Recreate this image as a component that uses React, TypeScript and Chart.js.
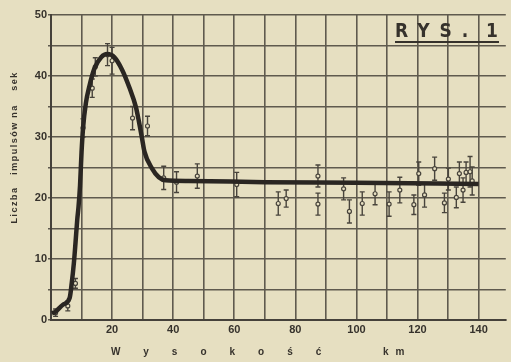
import React, { useEffect, useRef } from "react";
import { Chart, registerables } from "chart.js";

Chart.register(...registerables);

// Smooth fitted curve (altitude km, counts per second)
const curveKm = [0.3, 1.3, 3.9, 6.1, 6.8, 7.5, 8.0, 8.6, 9.0, 9.5, 10.0, 10.5, 11.4, 12.6, 14.2, 16.5, 18.4, 20.7, 23.3, 25.6, 27.8, 28.8, 29.8, 30.6, 33, 35.3, 37.5, 45, 70, 100, 140];
const curveVal = [1.1, 1.3, 2.5, 3.6, 6.1, 9.4, 12.5, 16.5, 18.5, 22, 27.5, 31.5, 35.5, 38.4, 41.2, 43.1, 43.6, 43.1, 41, 38.2, 34.9, 32.5, 29.8, 27.6, 24.9, 23.4, 22.9, 22.8, 22.6, 22.5, 22.3];

// Measured points with error bars
const obsKm = [1.5, 5.5, 8.0, 10.5, 13.5, 14.5, 18.5, 20.0, 26.7, 31.6, 36.9, 41.1, 47.9, 60.8, 74.4, 77.0, 87.4, 87.4, 95.8, 97.7, 101.9, 106.1, 110.7, 114.2, 118.8, 120.4, 122.3, 125.6, 128.8, 130.1, 132.7, 133.7, 134.9, 135.9, 137.2, 137.9];
const obsVal = [1.2, 2.3, 6.0, 31.5, 38.0, 41.5, 43.5, 42.5, 33.1, 31.8, 23.3, 22.6, 23.6, 22.2, 19.1, 19.9, 23.6, 19.0, 21.5, 17.8, 19.1, 20.7, 19.0, 21.3, 18.9, 24.0, 20.5, 24.8, 19.2, 23.1, 20.1, 24.0, 21.3, 24.2, 24.3, 22.8];
const obsErr = [0.6, 0.8, 0.8, 1.5, 1.5, 1.5, 1.8, 2.2, 1.9, 1.6, 1.9, 1.7, 2.0, 2.0, 1.9, 1.4, 1.8, 1.8, 1.8, 1.9, 1.9, 1.8, 2.0, 2.1, 1.6, 1.9, 2.0, 1.9, 1.6, 1.8, 1.7, 1.9, 2.0, 1.7, 2.5, 2.3];

const yTitleWords = ["Liczba", "impulsów", "na", "sek"];
const yTitleCenters = [205, 148, 111, 81];
const xTitleMain = "Wysokość";
const xTitleUnit = "km";
const figLabelMain = "RYS.";
const figLabelNum = "1";

const BG = "#e6dfc1";
const INK = "#36322c";
const GRID = "#5f5a4e";

const bgPlugin = {
  id: "bgPlugin",
  beforeDraw(chart: any) {
    const { ctx, width, height } = chart;
    ctx.save();
    ctx.fillStyle = BG;
    ctx.fillRect(0, 0, width, height);
    ctx.restore();
  },
};

const errorBars = {
  id: "errorBars",
  beforeDatasetsDraw(chart: any) {
    const { ctx } = chart;
    const x = chart.scales.x;
    const y = chart.scales.y;
    ctx.save();
    ctx.strokeStyle = "#48443c";
    ctx.lineWidth = 1.4;
    obsKm.forEach((k, i) => {
      const px = x.getPixelForValue(k);
      const top = y.getPixelForValue(obsVal[i] + obsErr[i]);
      const bot = y.getPixelForValue(obsVal[i] - obsErr[i]);
      ctx.beginPath();
      ctx.moveTo(px, top);
      ctx.lineTo(px, bot);
      ctx.moveTo(px - 2.5, top);
      ctx.lineTo(px + 2.5, top);
      ctx.moveTo(px - 2.5, bot);
      ctx.lineTo(px + 2.5, bot);
      ctx.stroke();
    });
    ctx.restore();
  },
};

function setSpacing(ctx: any, v: string) {
  if ("letterSpacing" in ctx) ctx.letterSpacing = v;
}

const textPlugin = {
  id: "textPlugin",
  afterDraw(chart: any) {
    const { ctx } = chart;
    ctx.save();
    ctx.fillStyle = INK;
    // y-axis title, rotated
    ctx.font = "bold 9px 'Liberation Sans', Arial, sans-serif";
    ctx.textAlign = "center";
    ctx.textBaseline = "middle";
    yTitleWords.forEach((w, i) => {
      ctx.save();
      ctx.translate(15, yTitleCenters[i]);
      ctx.rotate(-Math.PI / 2);
      setSpacing(ctx, "1.5px");
      ctx.fillText(w, 0, 0);
      ctx.restore();
    });
    // x-axis title, widely spaced
    ctx.font = "bold 10px 'Liberation Sans', Arial, sans-serif";
    ctx.textAlign = "left";
    ctx.textBaseline = "middle";
    setSpacing(ctx, "23px");
    ctx.fillText(xTitleMain, 111, 352);
    setSpacing(ctx, "7px");
    ctx.fillText(xTitleUnit, 383, 352);
    // figure label
    ctx.font = "bold 19px 'DejaVu Sans Condensed', 'Liberation Sans', Arial, sans-serif";
    ctx.textBaseline = "alphabetic";
    setSpacing(ctx, "10px");
    ctx.fillText(figLabelMain, 395, 37);
    setSpacing(ctx, "0px");
    ctx.fillText(figLabelNum, 486, 37);
    ctx.fillRect(395, 41, 104, 2);
    ctx.restore();
  },
};

export default function App() {
  const ref = useRef<HTMLCanvasElement>(null);
  useEffect(() => {
    if (!ref.current) return;
    const chart = new Chart(ref.current, {
      type: "scatter",
      data: {
        datasets: [
          {
            data: curveKm.map((k, i) => ({ x: k, y: curveVal[i] })),
            showLine: true,
            borderColor: "#2a2622",
            borderWidth: 4.5,
            pointRadius: 0,
            cubicInterpolationMode: "monotone",
            order: 0,
          } as any,
          {
            data: obsKm.map((k, i) => ({ x: k, y: obsVal[i] })),
            showLine: false,
            pointRadius: 2,
            pointBackgroundColor: BG,
            pointBorderColor: "#48443c",
            pointBorderWidth: 1.2,
            order: 1,
          } as any,
        ],
      },
      options: {
        responsive: false,
        animation: false,
        layout: { padding: { left: 0, top: 15, right: 0, bottom: 0 } },
        plugins: { legend: { display: false }, tooltip: { enabled: false } },
        scales: {
          x: {
            type: "linear",
            min: 0,
            max: 148.9,
            afterFit: (s: any) => {
              s.height = 42;
            },
            ticks: {
              stepSize: 10,
              includeBounds: false,
              autoSkip: false,
              maxRotation: 0,
              padding: 3,
              color: INK,
              font: { family: "'Liberation Sans', Arial, sans-serif", size: 11, weight: "bold" },
              callback: (v: any) => (v % 20 === 0 && v > 0 ? String(v) : ""),
            },
            grid: { color: GRID, lineWidth: 1.6, drawTicks: false },
            border: { color: "#45413a", width: 2 },
          },
          y: {
            type: "linear",
            min: 0,
            max: 50,
            afterFit: (s: any) => {
              s.width = 51;
            },
            ticks: {
              stepSize: 5,
              autoSkip: false,
              padding: 1,
              color: INK,
              font: { family: "'Liberation Sans', Arial, sans-serif", size: 11, weight: "bold" },
              callback: (v: any) => (v % 10 === 0 ? String(v) : ""),
            },
            grid: { color: GRID, lineWidth: 1.6, drawTicks: true, tickLength: 3 },
            border: { color: "#45413a", width: 2 },
          },
        },
      } as any,
      plugins: [bgPlugin, errorBars, textPlugin],
    });
    return () => chart.destroy();
  }, []);
  return (
    <canvas
      ref={ref}
      width={511}
      height={362}
      style={{ position: "fixed", left: 0, top: 0, width: 511, height: 362, display: "block" }}
    />
  );
}
